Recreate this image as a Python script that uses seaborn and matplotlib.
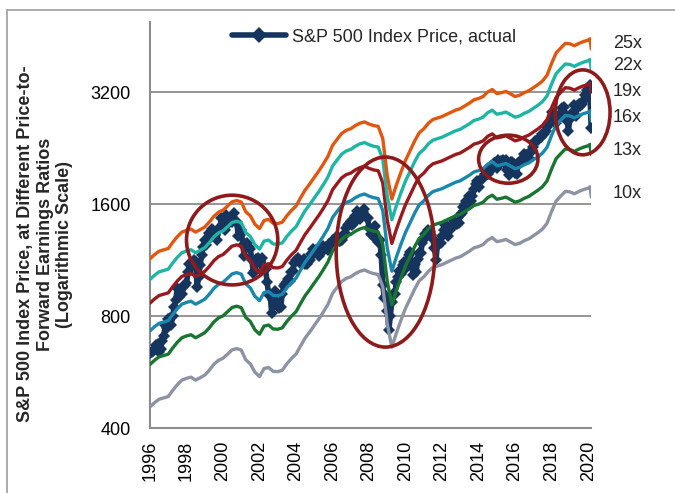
import numpy as np
import pandas as pd
import matplotlib
matplotlib.use("Agg")
import matplotlib.pyplot as plt
from matplotlib.patches import Ellipse
from matplotlib.lines import Line2D
from matplotlib.ticker import FixedLocator, FixedFormatter, NullLocator, MultipleLocator
import seaborn as sns

# --- Data ---
# S&P 500 monthly level, Jan 1996 .. Mar 2020
sp500 = [
    636, 640, 646, 654, 669, 671, 639, 652, 687, 705, 757, 741,          # 1996
    786, 791, 757, 801, 848, 885, 954, 899, 947, 915, 955, 970,          # 1997
    980, 1049, 1102, 1112, 1091, 1134, 1121, 957, 1017, 1099, 1164, 1229,  # 1998
    1280, 1238, 1286, 1335, 1302, 1373, 1329, 1320, 1283, 1363, 1389, 1469,  # 1999
    1394, 1366, 1499, 1452, 1421, 1455, 1431, 1518, 1437, 1429, 1315, 1320,  # 2000
    1366, 1240, 1160, 1249, 1256, 1224, 1211, 1134, 1041, 1060, 1139, 1148,  # 2001
    1130, 1107, 1147, 1077, 1067, 990, 912, 916, 815, 886, 936, 880,        # 2002
    856, 841, 848, 917, 964, 975, 990, 1008, 996, 1051, 1058, 1112,         # 2003
    1131, 1145, 1126, 1107, 1121, 1141, 1102, 1104, 1115, 1130, 1174, 1212,  # 2004
    1181, 1204, 1181, 1157, 1192, 1191, 1234, 1220, 1229, 1207, 1249, 1248,  # 2005
    1280, 1281, 1295, 1311, 1270, 1270, 1277, 1304, 1336, 1378, 1401, 1418,  # 2006
    1438, 1407, 1421, 1482, 1531, 1503, 1455, 1474, 1527, 1549, 1481, 1468,  # 2007
    1379, 1331, 1323, 1386, 1400, 1280, 1267, 1283, 1165, 969, 896, 903,     # 2008
    826, 735, 798, 873, 919, 919, 987, 1021, 1057, 1036, 1096, 1115,        # 2009
    1074, 1104, 1169, 1187, 1089, 1031, 1102, 1049, 1141, 1183, 1181, 1258,  # 2010
    1286, 1327, 1326, 1364, 1345, 1321, 1292, 1219, 1131, 1253, 1247, 1258,  # 2011
    1312, 1366, 1408, 1398, 1310, 1362, 1379, 1407, 1441, 1412, 1416, 1426,  # 2012
    1498, 1515, 1569, 1598, 1631, 1606, 1686, 1633, 1682, 1757, 1806, 1848,  # 2013
    1783, 1859, 1872, 1884, 1924, 1960, 1931, 2003, 1972, 2018, 2068, 2059,  # 2014
    1995, 2105, 2068, 2086, 2107, 2063, 2104, 1972, 1920, 2079, 2080, 2044,  # 2015
    1940, 1932, 2060, 2065, 2097, 2099, 2174, 2171, 2168, 2126, 2199, 2239,  # 2016
    2279, 2364, 2363, 2384, 2412, 2423, 2470, 2472, 2519, 2575, 2648, 2674,  # 2017
    2824, 2714, 2641, 2648, 2705, 2718, 2816, 2902, 2914, 2712, 2760, 2507,  # 2018
    2704, 2784, 2834, 2946, 2752, 2942, 2980, 2926, 2977, 3038, 3141, 3231,  # 2019
    3226, 3340, 2560,                                                    # 2020
]

# forward 12m earnings per share, quarterly 1996Q1 .. 2020Q1, plus two points in early 2020
fwd_eps = [
    45.6, 46.8, 47.8, 48.2,     # 1996
    48.6, 50.5, 52.3, 53.8,     # 1997
    54.4, 54.8, 53.8, 54.6,     # 1998
    55.5, 57.2, 59.3, 60.8,     # 1999
    61.6, 63.2, 64.9, 65.4,     # 2000
    64.8, 61.0, 59.5, 56.5,     # 2001
    55.0, 57.8, 58.2, 56.8,     # 2002
    56.7, 57.2, 59.5, 61.5,     # 2003
    63.2, 66.5, 69.8, 72.5,     # 2004
    75.5, 78.5, 82.0, 86.0,     # 2005
    92.0, 95.5, 99.0, 101.0,    # 2006
    102.0, 104.0, 105.5, 106.4,  # 2007
    105.0, 104.0, 103.5, 96.0,  # 2008
    76.0, 66.0, 72.0, 78.0,     # 2009
    84.0, 89.0, 94.5, 99.5,     # 2010
    102.0, 105.5, 108.0, 109.0,  # 2011
    110.0, 111.5, 113.0, 114.5,  # 2012
    115.5, 117.5, 119.5, 122.0,  # 2013
    123.0, 124.5, 128.0, 130.0,  # 2014
    126.8, 127.5, 128.5, 126.5,  # 2015
    124.5, 125.5, 127.5, 129.0,  # 2016
    131.5, 134.0, 137.0, 142.0,  # 2017
    153.0, 163.0, 168.0, 173.0,  # 2018
    172.5, 170.5, 173.0, 175.0,  # 2019
    176.5, 178.0, 167.0,        # 2020
]

multiples = [10, 13, 16, 19, 22, 25]
multiple_labels = ["10x", "13x", "16x", "19x", "22x", "25x"]
multiple_colors = ["#8D93A3", "#1A7532", "#1A87AD", "#991A1E", "#1FB5A5", "#E2570F"]
label_prices = [1713, 2234, 2725, 3220, 3782, 4333]   # where the "NNx" labels sit

# highlighted regions: (start year, end year), (low price, high price)
circle_years = [(1998.0, 2003.0), (2006.2, 2011.6), (2014.0, 2017.25), (2018.2, 2021.2)]
circle_prices = [(970, 1690), (660, 2140), (1820, 2450), (2170, 3670)]

NAVY = "#16355E"
CIRCLE = "#8E1B1B"
GRID = "#8C8C8C"


def frac_year(dates):
    return (dates.year + (dates.dayofyear - 1) / 365.25).to_numpy()


sp_dates = pd.date_range("1996-01-01", periods=len(sp500), freq="MS")
eps_dates = pd.date_range("1996-01-01", "2020-01-01", freq="QS").append(
    pd.DatetimeIndex(["2020-02-07", "2020-03-05"]))
sp_years = frac_year(sp_dates)
eps_years = frac_year(eps_dates)

# --- Plot ---
sns.set_style("white")
plt.rcParams["font.family"] = ["Liberation Sans", "DejaVu Sans"]

fig = plt.figure(figsize=(6.75, 4.93), dpi=100)
ax = fig.add_axes([0.2222, 0.1318, 0.654, 0.8235])

XMIN, XMAX = 1996, 2020.18
YMIN, YMAX = 400, 4935

sns.lineplot(x=sp_years, y=sp500, ax=ax, color=NAVY, lw=4, marker="D",
             markersize=6.5, markeredgewidth=0, label="S&P 500 Index Price, actual",
             zorder=3)

for m, c in zip(multiples, multiple_colors):
    sns.lineplot(x=eps_years, y=np.array(fwd_eps) * m, ax=ax, color=c, lw=2.4,
                 legend=False, zorder=4)

ax.set_yscale("log")
ax.set_xlim(XMIN, XMAX)
ax.set_ylim(YMIN, YMAX)
ax.yaxis.set_major_locator(FixedLocator([400, 800, 1600, 3200]))
ax.yaxis.set_major_formatter(FixedFormatter(["400", "800", "1600", "3200"]))
ax.yaxis.set_minor_locator(NullLocator())
ax.xaxis.set_major_locator(MultipleLocator(2))
ax.xaxis.set_minor_locator(MultipleLocator(1))
ax.xaxis.set_major_formatter(matplotlib.ticker.FuncFormatter(lambda v, p: f"{int(round(v))}"))

ax.set_axisbelow(True)
ax.yaxis.grid(True, color=GRID, lw=1.3)
ax.xaxis.grid(False)
for side in ["top", "right"]:
    ax.spines[side].set_visible(False)
for side in ["left", "bottom"]:
    ax.spines[side].set_color(GRID)
    ax.spines[side].set_linewidth(1.5)

ax.tick_params(axis="both", which="both", direction="out", color=GRID, width=1.2,
               labelsize=13, labelcolor="black")
ax.tick_params(axis="y", length=6, pad=8)
ax.tick_params(axis="x", which="both", length=5, pad=4, labelrotation=90)
ax.set_xlabel("")
ax.set_ylabel("")

# multiple labels on the right
for lab, price in zip(multiple_labels, label_prices):
    ax.text(2021.35, price, lab, fontsize=13, ha="left", va="center", clip_on=False)

# red ellipses, placed in axes fraction so they stay true ellipses on the log axis
lx0, lx1 = np.log(YMIN), np.log(YMAX)
for (y0, y1), (p0, p1) in zip(circle_years, circle_prices):
    fx0 = (y0 - XMIN) / (XMAX - XMIN)
    fx1 = (y1 - XMIN) / (XMAX - XMIN)
    fy0 = (np.log(p0) - lx0) / (lx1 - lx0)
    fy1 = (np.log(p1) - lx0) / (lx1 - lx0)
    ax.add_patch(Ellipse(((fx0 + fx1) / 2, (fy0 + fy1) / 2), fx1 - fx0, fy1 - fy0,
                         transform=ax.transAxes, fill=False, ec=CIRCLE, lw=2.6,
                         clip_on=False, zorder=6))

handles, labels = ax.get_legend_handles_labels()
ax.legend(handles[:1], labels[:1], loc="upper left", bbox_to_anchor=(0.186, 0.985),
          frameon=False, handlelength=3.0, fontsize=13, borderpad=0,
          borderaxespad=0, handletextpad=0.3, markerscale=1.2)

fig.text(0.0667, 0.505,
         "S&P 500 Index Price, at Different Price-to-\nForward Earnings Ratios\n(Logarithmic Scale)",
         rotation=90, ha="center", va="center", multialignment="center",
         fontsize=13, fontweight="bold")

# frame around the figure (top and left edges visible in the crop)
fig.add_artist(Line2D([7 / 675, 7 / 675], [0, 1 - 10 / 493], transform=fig.transFigure,
                      color="#A6A6A6", lw=1.3))
fig.add_artist(Line2D([7 / 675, 1], [1 - 10 / 493, 1 - 10 / 493], transform=fig.transFigure,
                      color="#A6A6A6", lw=1.3))

fig.savefig("out.png", dpi=100)
